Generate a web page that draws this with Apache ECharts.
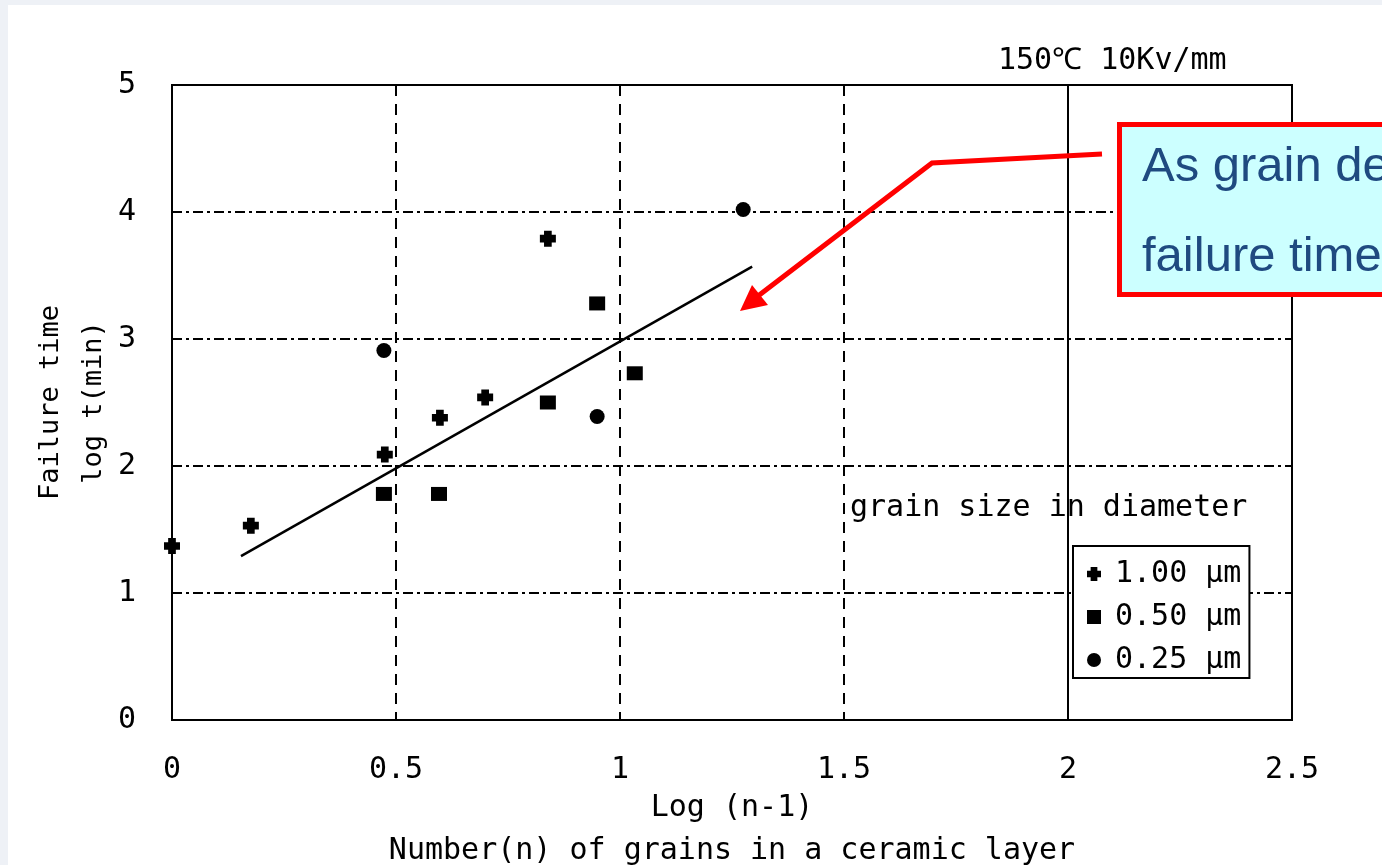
<!DOCTYPE html>
<html>
<head>
<meta charset="utf-8">
<script src="https://cdn.jsdelivr.net/npm/echarts@6/dist/echarts.min.js"></script>
<style>
html,body{margin:0;padding:0;background:#fff;}
#c{width:1382px;height:865px;}
</style>
</head>
<body>
<div id="c"></div>
<script>
// ---- data ----
const xTicks = [0, 0.5, 1, 1.5, 2, 2.5];
const yTicks = [0, 1, 2, 3, 4, 5];
const seriesNames = ['1.00 μm', '0.50 μm', '0.25 μm'];
const grain100 = [[0, 1.37], [0.176, 1.53], [0.475, 2.09], [0.598, 2.38], [0.699, 2.54], [0.839, 3.79]];
const grain050 = [[0.473, 1.78], [0.596, 1.78], [0.839, 2.50], [0.949, 3.28], [1.033, 2.73]];
const grain025 = [[0.473, 2.91], [0.949, 2.39], [1.275, 4.02]];
const fitLine = [[0.154, 1.29], [1.295, 3.57]];
const xTitle = 'Log (n-1)\nNumber(n) of grains in a ceramic layer';
const yTitle = 'Failure time\nlog t(min)';
const conditionText = '150℃ 10Kv/mm';
const legendTitle = 'grain size in diameter';
const calloutLines = ['As grain decreases,', 'failure time increases'];

const MONO = '"DejaVu Sans Mono", "Liberation Mono", monospace';
const plusPath = 'path://M2.6,0 H7.4 V2.6 H10 V7.4 H7.4 V10 H2.6 V7.4 H0 V2.6 H2.6 Z';

const chart = echarts.init(document.getElementById('c'), null, {renderer: 'canvas'});
const option = {
  backgroundColor: '#ffffff',
  animation: false,
  grid: {left: 172, right: 90, top: 85, bottom: 145, containLabel: false, outerBoundsMode: 'none',
         show: true, borderColor: '#000', borderWidth: 2, backgroundColor: 'transparent'},
  xAxis: {
    type: 'value', min: 0, max: 2.5, interval: 0.5,
    name: xTitle, nameLocation: 'middle', nameGap: 67, nameMoveOverlap: false,
    nameTextStyle: {fontFamily: MONO, fontSize: 30, color: '#000', lineHeight: 43},
    axisLine: {show: true, lineStyle: {color: '#000', width: 2}},
    axisTick: {show: false},
    axisLabel: {fontFamily: MONO, fontSize: 30, color: '#000', margin: 35, formatter: v => String(v)},
    splitLine: {show: true, lineStyle: {color: '#000', width: 2, type: [11, 8]}}
  },
  yAxis: {
    type: 'value', min: 0, max: 5, interval: 1,
    name: yTitle, nameLocation: 'middle', nameGap: 57, nameMoveOverlap: false,
    nameTextStyle: {fontFamily: MONO, fontSize: 27, color: '#000', lineHeight: 43},
    axisLine: {show: true, lineStyle: {color: '#000', width: 2}},
    axisTick: {show: false},
    axisLabel: {fontFamily: MONO, fontSize: 30, color: '#000', margin: 36},
    splitLine: {show: true, lineStyle: {color: '#000', width: 2, type: [10, 4, 3, 4]}}
  },
  legend: {
    left: 1073, top: 546, orient: 'vertical',
    backgroundColor: '#fff', borderColor: '#000', borderWidth: 2,
    padding: [13, 8, 3, 14], itemGap: 13, itemWidth: 14, itemHeight: 14,
    textStyle: {fontFamily: MONO, fontSize: 30, color: '#000', lineHeight: 30, padding: [0, 0, 0, 9]},
    data: [
      {name: seriesNames[0], icon: plusPath},
      {name: seriesNames[1], icon: 'rect'},
      {name: seriesNames[2], icon: 'circle'}
    ],
    selectedMode: false
  },
  series: [
    {
      type: 'line', data: fitLine, showSymbol: false, symbol: 'none',
      lineStyle: {color: '#000', width: 2.5}, z: 3, silent: true,
      markLine: {
        silent: true, symbol: 'none', label: {show: false},
        lineStyle: {color: '#000', width: 2, type: 'solid'},
        data: [{xAxis: 2}]
      }
    },
    {name: seriesNames[0], type: 'scatter', data: grain100, symbol: plusPath, symbolSize: 16, itemStyle: {color: '#000', opacity: 1}, z: 4},
    {name: seriesNames[1], type: 'scatter', data: grain050, symbol: 'rect', symbolSize: [16, 14], itemStyle: {color: '#000', opacity: 1}, z: 4},
    {name: seriesNames[2], type: 'scatter', data: grain025, symbol: 'circle', symbolSize: 15, itemStyle: {color: '#000', opacity: 1}, z: 4}
  ],
  graphic: [
    {type: 'rect', left: 0, top: 0, shape: {width: 1382, height: 5}, style: {fill: '#eef1f6'}, z: 0, silent: true},
    {type: 'rect', left: 0, top: 0, shape: {width: 8, height: 865}, style: {fill: '#eef1f6'}, z: 0, silent: true},
    {type: 'text', left: 998, top: 46, style: {text: conditionText, font: '30px ' + MONO, fill: '#000'}, z: 10},
    {type: 'text', left: 850, top: 493, style: {text: legendTitle, font: '30px ' + MONO, fill: '#000'}, z: 10},
    {type: 'rect', shape: {x: 1119.5, y: 124.5, width: 300, height: 170}, style: {fill: '#ccffff', stroke: '#ff0000', lineWidth: 5}, z: 20},
    {type: 'text', x: 1142, y: 167, style: {text: calloutLines[0], font: '49px "Liberation Sans", Arial, sans-serif', fill: '#1f4a80', textVerticalAlign: 'middle'}, z: 21},
    {type: 'text', x: 1142, y: 257, style: {text: calloutLines[1], font: '49px "Liberation Sans", Arial, sans-serif', fill: '#1f4a80', textVerticalAlign: 'middle'}, z: 21},
    {type: 'polyline', shape: {points: [[1102, 154], [932, 163], [758, 296]]}, style: {stroke: '#ff0000', lineWidth: 5, fill: null, lineJoin: 'miter'}, z: 22},
    {type: 'polygon', shape: {points: [[740, 311], [752, 285], [768, 305]]}, style: {fill: '#ff0000'}, z: 22}
  ]
};
chart.setOption(option);
</script>
</body>
</html>
